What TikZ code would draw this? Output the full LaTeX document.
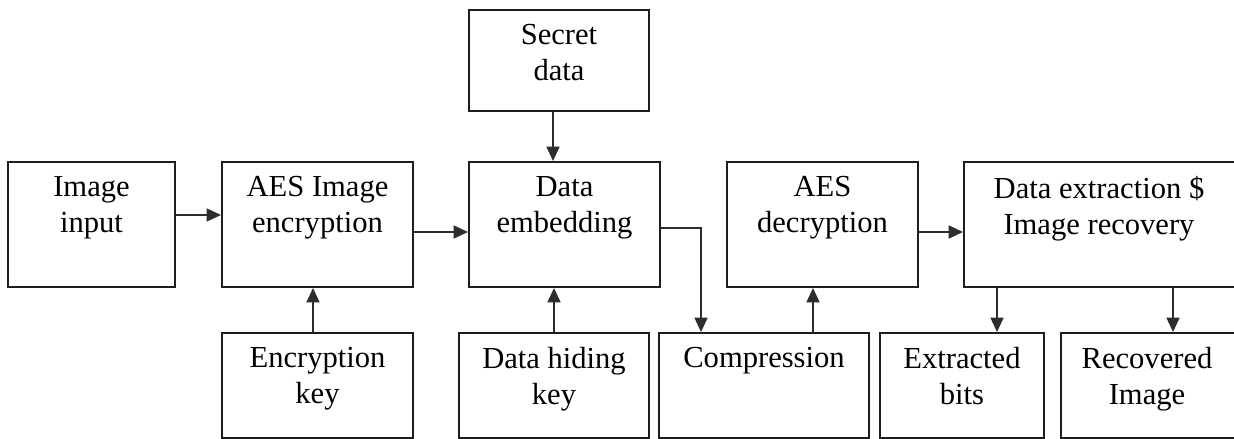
\documentclass[tikz,border=0pt]{standalone}
\usepackage{fontspec}
\setmainfont{Liberation Serif}
\definecolor{boxline}{RGB}{30, 30, 30}
\definecolor{flowline}{RGB}{45, 45, 45}
\usetikzlibrary{arrows.meta, positioning, calc}

\tikzset{
  blockbox/.style={draw=boxline, line width=1.1pt, minimum width=#1, inner sep=0pt},
  blockbox/.default=3.82cm,
  upper/.style={minimum height=2.5cm},
  lower/.style={minimum height=2.1cm},
  blocktext/.style={anchor=north, yshift=-0.3cm, inner sep=0pt, align=center,
    font=\fontsize{17.4}{20.5}\selectfont},
  flow/.style={draw=flowline, line width=1.1pt, -{Triangle[length=0.29cm, width=0.26cm]}}
}

\begin{document}
\begin{tikzpicture}
  \useasboundingbox (0,0) rectangle (24.68,-8.78);

  % Top row
  \node[blockbox=3.34cm, upper] (inp) at (1.83, -4.49) {};
  \node[blocktext] (inp-t) at (inp.north) {Image\\input};

  \node[blockbox, upper] (enc) at (6.35, -4.49) {};
  \node[blocktext] (enc-t) at (enc.north) {AES Image\\encryption};

  \node[blockbox=3.6cm, minimum height=2.02cm] (sec) at (11.18, -1.21) {};
  \node[blocktext] (sec-t) at (sec.north) {Secret\\data};

  \node[blockbox, upper] (emb) at (11.29, -4.49) {};
  \node[blocktext] (emb-t) at (emb.north) {Data\\embedding};

  \node[blockbox, upper] (dec) at (16.45, -4.49) {};
  \node[blocktext] (dec-t) at (dec.north) {AES\\decryption};

  % runs past the right margin
  \node[blockbox=5.52cm, upper] (ext) at (22.04, -4.49) {};
  \node[blocktext, xshift=-0.06cm] (ext-t) at (ext.north) {Data extraction \$\\Image recovery};

  % Bottom row
  \node[blockbox, lower] (key) at (6.35, -7.71) {};
  \node[blocktext] (key-t) at (key.north) {Encryption\\key};

  \node[blockbox=3.8cm, lower] (hid) at (11.08, -7.71) {};
  \node[blocktext] (hid-t) at (hid.north) {Data hiding\\key};

  \node[blockbox=4.2cm, lower] (cmp) at (15.28, -7.71) {};
  \node[blocktext] (cmp-t) at (cmp.north) {Compression};

  \node[blockbox=3.28cm, lower] (bits) at (19.24, -7.71) {};
  \node[blocktext] (bits-t) at (bits.north) {Extracted\\bits};

  \node[blockbox=3.58cm, lower] (rec) at (23.01, -7.71) {};
  \node[blocktext, xshift=-0.07cm] (rec-t) at (rec.north) {Recovered\\Image};

  % Flow
  \draw[flow] ([yshift=0.19cm]inp.east) -- ([yshift=0.19cm]enc.west);
  \draw[flow] ([xshift=-0.09cm]key.north) -- ([xshift=-0.09cm]enc.south);
  \draw[flow] ([yshift=-0.15cm]enc.east) -- ([yshift=-0.15cm]emb.west);
  \draw[flow] ([xshift=-0.12cm]sec.south) -- ([xshift=-0.12cm]sec.south |- emb.north);
  \draw[flow] (hid.north) -- (hid.north |- emb.south);
  \draw[flow] ([yshift=-0.07cm]emb.east) -| ([xshift=-1.26cm]cmp.north);
  \draw[flow] ([xshift=0.98cm]cmp.north) -- ([xshift=0.98cm]cmp.north |- dec.south);
  \draw[flow] ([yshift=-0.15cm]dec.east) -- ([yshift=-0.15cm]ext.west);
  \draw[flow] ([xshift=-2.1cm]ext.south) -- ([xshift=-2.1cm]ext.south |- bits.north);
  \draw[flow] ([xshift=1.42cm]ext.south) -- ([xshift=1.42cm]ext.south |- rec.north);
\end{tikzpicture}
\end{document}
